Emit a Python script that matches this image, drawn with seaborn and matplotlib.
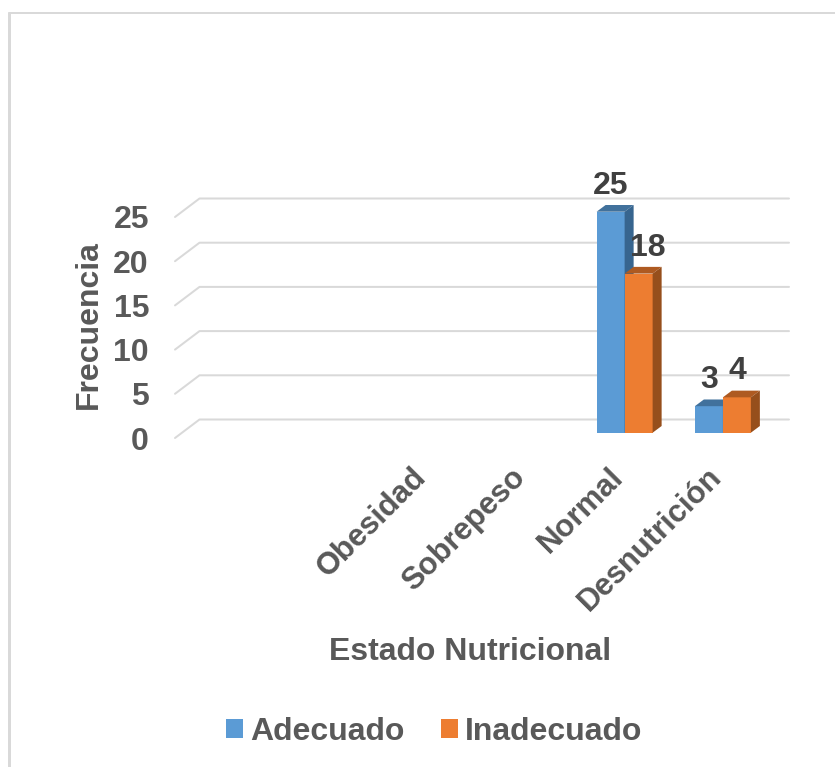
"""Frecuencia por estado nutricional: columnas con efecto 3D estilo Excel."""
import matplotlib
matplotlib.use("Agg")
import matplotlib.pyplot as plt
from matplotlib.lines import Line2D
from matplotlib.patches import Polygon
from matplotlib.transforms import ScaledTranslation, offset_copy
import pandas as pd
import seaborn as sns

categories = ["Obesidad", "Sobrepeso", "Normal", "Desnutrición"]
adecuado = [0, 0, 25, 3]
inadecuado = [0, 0, 18, 4]
series_names = ["Adecuado", "Inadecuado"]
y_ticks = [0, 5, 10, 15, 20, 25]

FIG_W, FIG_H = 835, 767
DPI = 100
PX = 72 / DPI  # one pixel in points
FS = 23

FRONT = {"Adecuado": "#5B9BD5", "Inadecuado": "#ED7D31"}
TOP = {"Adecuado": "#41719C", "Inadecuado": "#AE5A21"}
SIDE = {"Adecuado": "#37658F", "Inadecuado": "#964F1C"}
GRID = "#D9D9D9"
TEXT = "#595959"
LABEL = "#404040"

sns.set_theme(style="white")
plt.rcParams["font.family"] = ["Liberation Sans", "DejaVu Sans"]
plt.rcParams["font.weight"] = "bold"

df = pd.DataFrame({
    "estado": categories * 2,
    "valor": adecuado + inadecuado,
    "serie": [series_names[0]] * 4 + [series_names[1]] * 4,
})

fig = plt.figure(figsize=(FIG_W / DPI, FIG_H / DPI), dpi=DPI)
ax = fig.add_axes([175 / FIG_W, (FIG_H - 438) / FIG_H, 589.5 / FIG_W, 221 / FIG_H])

sns.barplot(
    data=df, x="estado", y="valor", hue="serie", order=categories,
    hue_order=series_names, palette=FRONT, width=0.57, gap=0, saturation=1,
    linewidth=0, edgecolor="none", ax=ax, zorder=3,
)
ax.set_xlim(-2.5, 3.5)
ax.set_ylim(0, 25)

x_per_px = 6 / 589.5
y_per_px = 25 / 221

# ---- Floor and wall gridlines ----
for v in y_ticks:
    xs = [-2.5, -2.5 + 24.5 * x_per_px, 3.5 + 24.5 * x_per_px]
    ys = [v, v + 18.5 * y_per_px, v + 18.5 * y_per_px]
    ax.plot(xs, ys, color=GRID, lw=2 * PX, clip_on=False, zorder=1)

# ---- Bars sit halfway through the floor depth, with a top and side face ----
shifted = offset_copy(ax.transData, fig=fig, x=7.5 * PX, y=5.3 * PX, units="points")
dx = 9 * x_per_px
dy = 6.7 * y_per_px
label_nudge = {(1, 2): 9}

for s, (container, name) in enumerate(zip(ax.containers, series_names)):
    for c, bar in enumerate(container):
        h = bar.get_height()
        if h == 0:
            continue
        bar.set_transform(shifted)
        bar.set_clip_on(False)
        bar.set_zorder(3 + s)
        x0, x1 = bar.get_x(), bar.get_x() + bar.get_width()
        top = Polygon([(x0, h), (x0 + dx, h + dy), (x1 + dx, h + dy), (x1, h)],
                      closed=True, facecolor=TOP[name], edgecolor="none",
                      transform=shifted, clip_on=False, zorder=3 + s)
        side = Polygon([(x1, 0), (x1 + dx, dy), (x1 + dx, h + dy), (x1, h)],
                       closed=True, facecolor=SIDE[name], edgecolor="none",
                       transform=shifted, clip_on=False, zorder=3 + s)
        ax.add_patch(top)
        ax.add_patch(side)
        ax.annotate(
            f"{h:.0f}", xy=((x0 + x1) / 2, h), xycoords=shifted,
            xytext=(label_nudge.get((s, c), 0) * PX, 26 * PX),
            textcoords="offset points", ha="center", va="center",
            fontsize=FS, fontweight="bold", color=LABEL, zorder=6,
            annotation_clip=False,
        )

# ---- Axes text ----
sns.despine(ax=ax, left=True, bottom=True, top=True, right=True)
ax.set_yticks(y_ticks)
ax.set_xticks(range(len(categories)))
ax.set_xticklabels(categories, rotation=45, ha="right", rotation_mode="anchor")
ax.tick_params(axis="y", length=0, pad=26 * PX, labelsize=FS, labelcolor=TEXT)
ax.tick_params(axis="x", length=0, pad=24 * PX, labelsize=22.3, labelcolor=TEXT)
nudge = ScaledTranslation(-9 / DPI, 0, fig.dpi_scale_trans)
for lab in ax.get_xticklabels():
    lab.set_transform(lab.get_transform() + nudge)
ax.set_xlabel("Estado Nutricional", fontsize=FS, fontweight="bold", color=TEXT)
ax.xaxis.set_label_coords(0.5, (438 - 637) / 221, transform=ax.transAxes)
ax.set_ylabel("Frecuencia", fontsize=FS, fontweight="bold", color=TEXT)
ax.yaxis.set_label_coords((104 - 175) / 589.5, 0.5 + 3 / 221, transform=ax.transAxes)

# ---- Legend ----
sns.move_legend(
    ax, "center", bbox_to_anchor=(434 / FIG_W, (FIG_H - 732) / FIG_H),
    bbox_transform=fig.transFigure, ncol=2, title=None, frameon=False,
    fontsize=FS, handlelength=0.54, handleheight=0.54, handletextpad=0.2,
    columnspacing=1.15, labelcolor=TEXT,
)

# ---- Chart area border (top and left only are in frame) ----
fig.add_artist(Line2D([8.5 / FIG_W, 1], [1 - 12.5 / FIG_H] * 2, color=GRID, lw=2 * PX))
fig.add_artist(Line2D([8.5 / FIG_W] * 2, [0, 1 - 12.5 / FIG_H], color=GRID, lw=3 * PX))

fig.savefig("out.png", dpi=DPI)
